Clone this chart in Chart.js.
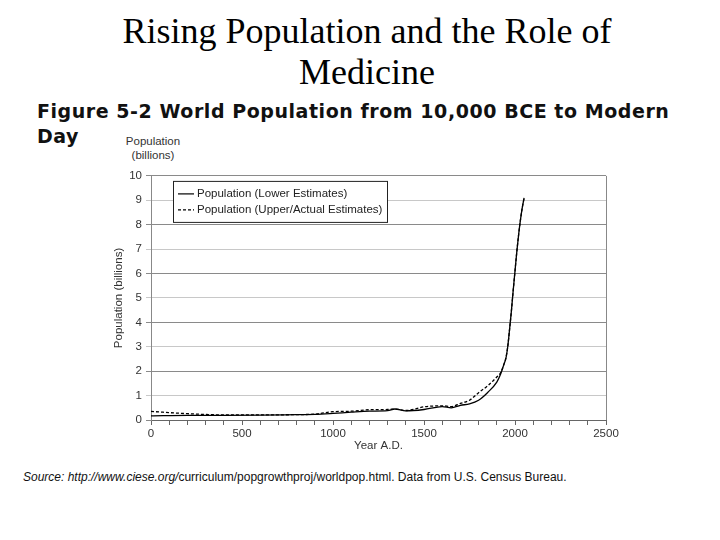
<!DOCTYPE html>
<html>
<head>
<meta charset="utf-8">
<script src="https://cdn.jsdelivr.net/npm/chart.js@4"></script>
<style>
  body { margin: 0; width: 720px; height: 540px; background: #fff; position: relative; overflow: hidden; }
  .title { position: absolute; left: 0; width: 734px; top: 11px; text-align: center;
           font-family: "Liberation Serif", serif; font-size: 36px; line-height: 41px; color: #000; }
  .subtitle { position: absolute; left: 37px; top: 99px; width: 650px;
              font-family: "DejaVu Sans", sans-serif; font-weight: bold; font-size: 19px; line-height: 25px;
              letter-spacing: 0.55px; color: #111; }
  .unit { position: absolute; left: 120px; top: 134px; width: 66px; text-align: center;
          font-family: "Liberation Sans", sans-serif; font-size: 11.5px; line-height: 14px; color: #333; }
  .source { position: absolute; left: 23px; top: 470px;
            font-family: "Liberation Sans", sans-serif; font-size: 12px; color: #111; }
  #wrap { position: absolute; left: 95px; top: 165px; width: 530px; height: 290px; }
</style>
</head>
<body>
<div class="title">Rising Population and the Role of<br>Medicine</div>
<div class="subtitle">Figure 5-2 World Population from 10,000 BCE to Modern<br>Day</div>
<div class="unit">Population<br>(billions)</div>
<div class="source"><i>Source: http://www.ciese.org/</i>curriculum/popgrowthproj/worldpop.html. Data from U.S. Census Bureau.</div>
<div id="wrap"><canvas id="popChart" width="530" height="290"></canvas></div>

<script>
// values (billions)
const years = [0, 200, 400, 600, 800, 900, 1000, 1100, 1200, 1300, 1340, 1400, 1500, 1600, 1650, 1700, 1750, 1800, 1850, 1900, 1920, 1940, 1950, 1960, 1970, 1980, 1990, 2000, 2010, 2020, 2030, 2040, 2050];
const lowerEstimates = [0.17, 0.19, 0.19, 0.2, 0.22, 0.23, 0.27, 0.32, 0.36, 0.38, 0.45, 0.37, 0.43, 0.55, 0.5, 0.6, 0.66, 0.81, 1.13, 1.55, 1.86, 2.3, 2.52, 3.0, 3.7, 4.45, 5.3, 6.1, 6.9, 7.6, 8.2, 8.7, 9.1];
const upperEstimates = [0.35, 0.26, 0.21, 0.21, 0.22, 0.24, 0.34, 0.36, 0.42, 0.43, 0.45, 0.39, 0.54, 0.58, 0.55, 0.68, 0.81, 1.12, 1.4, 1.76, 1.92, 2.3, 2.55, 3.0, 3.7, 4.45, 5.3, 6.1, 6.9, 7.6, 8.2, 8.7, 9.1];
const xTickLabels = [0, 500, 1000, 1500, 2000, 2500];

const toPoints = vals => vals.map((v, i) => ({ x: years[i], y: v }));
const axisFont = { family: '"Liberation Sans", sans-serif', size: 11.5 };

// legend box inside the plot + right border of the plot
const boxPlugin = {
    id: 'boxPlugin',
    afterDraw(chart) {
        const c = chart.ctx;
        const a = chart.chartArea;
        c.save();
        c.strokeStyle = '#888';
        c.lineWidth = 1;
        c.beginPath();
        c.moveTo(Math.round(a.right) + 0.5, a.top);
        c.lineTo(Math.round(a.right) + 0.5, a.bottom);
        c.stroke();

        const bx = a.left + 22, by = a.top + 5, bw = 214, bh = 41;
        c.fillStyle = '#fff';
        c.fillRect(bx, by, bw, bh);
        c.strokeStyle = '#222';
        c.strokeRect(bx + 0.5, by + 0.5, bw, bh);
        c.font = '11.5px "Liberation Sans", sans-serif';
        c.textBaseline = 'middle';
        chart.data.datasets.forEach((ds, i) => {
            const y = by + 13 + i * 16;
            c.strokeStyle = '#000';
            c.lineWidth = 1.2;
            c.setLineDash(ds.borderDash || []);
            c.beginPath();
            c.moveTo(bx + 5, y);
            c.lineTo(bx + 21, y);
            c.stroke();
            c.setLineDash([]);
            c.fillStyle = '#222';
            c.fillText(ds.label, bx + 24, y);
        });
        c.restore();
    }
};

const ctx = document.getElementById('popChart').getContext('2d');
new Chart(ctx, {
    type: 'line',
    data: {
        datasets: [{
            label: 'Population (Lower Estimates)',
            data: toPoints(lowerEstimates),
            borderColor: '#000',
            borderWidth: 1.3,
            pointRadius: 0,
            tension: 0.3,
            cubicInterpolationMode: 'monotone'
        }, {
            label: 'Population (Upper/Actual Estimates)',
            data: toPoints(upperEstimates),
            borderColor: '#000',
            borderWidth: 1.3,
            borderDash: [3, 2],
            pointRadius: 0,
            tension: 0.3,
            cubicInterpolationMode: 'monotone'
        }]
    },
    options: {
        responsive: false,
        animation: false,
        layout: { padding: { top: 7, right: 19, left: 0, bottom: 0 } },
        plugins: { legend: { display: false }, tooltip: { enabled: false } },
        scales: {
            x: {
                type: 'linear',
                min: 0,
                max: 2500,
                afterFit: s => { s.height = 35; },
                afterBuildTicks: s => {
                    const t = [];
                    for (let v = 0; v <= 2500; v += 100) t.push({ value: v });
                    s.ticks = t;
                },
                ticks: {
                    autoSkip: false,
                    maxRotation: 0,
                    padding: 2,
                    color: '#333',
                    font: axisFont,
                    callback: v => xTickLabels.includes(v) ? String(v) : ''
                },
                grid: { drawOnChartArea: false, tickLength: 5, color: '#666' },
                border: { color: '#666' },
                title: {
                    display: true,
                    text: 'Year A.D.',
                    color: '#333',
                    padding: { top: 0, bottom: 2 },
                    font: axisFont
                }
            },
            y: {
                min: 0,
                max: 10,
                afterFit: s => { s.width = 56; },
                ticks: {
                    stepSize: 1,
                    padding: 4,
                    color: '#333',
                    font: axisFont
                },
                grid: {
                    tickLength: 5,
                    color: c => (c.tick && c.tick.value % 2 === 1) ? '#c8c8c8' : '#8a8a8a'
                },
                border: { color: '#888' },
                title: {
                    display: true,
                    text: 'Population (billions)',
                    color: '#333',
                    padding: { top: 17, bottom: 0 },
                    font: axisFont
                }
            }
        }
    },
    plugins: [boxPlugin]
});
</script>
</body>
</html>
